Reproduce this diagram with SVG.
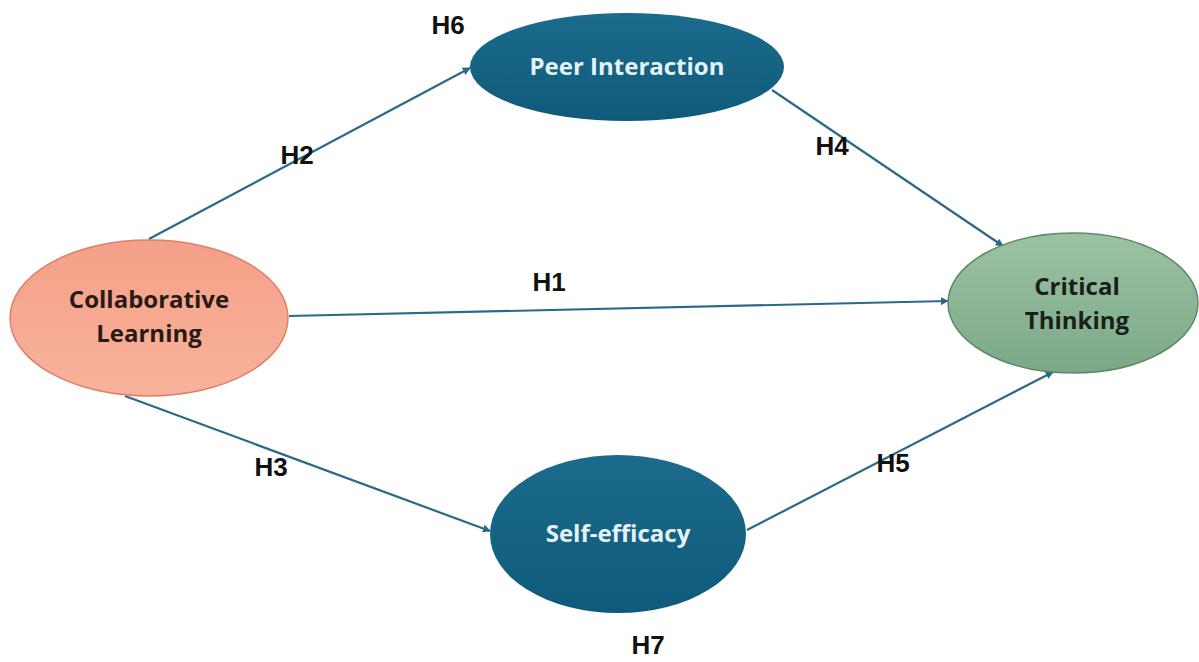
<svg xmlns="http://www.w3.org/2000/svg" width="1199" height="662" viewBox="0 0 1199 662">
<defs>
<marker id="arr" viewBox="0 0 10 10" refX="9" refY="5" markerWidth="8" markerHeight="8" markerUnits="userSpaceOnUse" orient="auto"><path d="M0,0 L10,5 L0,10 z" fill="#2a6a88"/></marker>
<linearGradient id="blue" x1="0" y1="0" x2="0" y2="1"><stop offset="0" stop-color="#1c6b8c"/><stop offset="1" stop-color="#0f5a7a"/></linearGradient>
<linearGradient id="green" x1="0" y1="0" x2="0" y2="1"><stop offset="0" stop-color="#9cc2a4"/><stop offset="1" stop-color="#7aa986"/></linearGradient>
<linearGradient id="salmon" x1="0" y1="0" x2="0" y2="1"><stop offset="0" stop-color="#f5a088"/><stop offset="1" stop-color="#f8b29c"/></linearGradient>
</defs>
<style>
.lbl{font-family:"Liberation Sans",Arial,sans-serif;font-weight:bold;font-size:26px;fill:#111;text-anchor:middle}
.nt{font-family:"Open Sans","Liberation Sans",sans-serif;font-weight:bold;font-size:24px;text-anchor:middle}
.conn{stroke:#2a6a88;stroke-width:2.2;fill:none;marker-end:url(#arr)}
</style>
<rect width="1199" height="662" fill="#ffffff"/>
<g id="connectors">
<line class="conn" x1="149" y1="239" x2="470" y2="68"/>
<line class="conn" x1="772" y1="90" x2="1003" y2="246"/>
<line class="conn" x1="289" y1="316" x2="948" y2="301"/>
<line class="conn" x1="125" y1="396" x2="490" y2="531"/>
<line class="conn" x1="747" y1="530" x2="1053" y2="372"/>
</g>
<g id="node-collaborative">
<ellipse cx="149" cy="318" rx="139" ry="78" fill="url(#salmon)" stroke="#e07f68" stroke-width="1.5"/>
<text class="nt" x="149" y="308" fill="#2a1a16">Collaborative</text>
<text class="nt" x="149" y="342" fill="#2a1a16">Learning</text>
</g>
<g id="node-peer">
<ellipse cx="627" cy="67" rx="157" ry="54" fill="url(#blue)"/>
<text class="nt" x="627" y="75" fill="#e6f3f6">Peer Interaction</text>
</g>
<g id="node-critical">
<ellipse cx="1073" cy="303" rx="125" ry="70" fill="url(#green)" stroke="#5e8a68" stroke-width="1.5"/>
<text class="nt" x="1077" y="295" fill="#1a1f1b">Critical</text>
<text class="nt" x="1077" y="329" fill="#1a1f1b">Thinking</text>
</g>
<g id="node-self">
<ellipse cx="618" cy="534" rx="128" ry="79" fill="url(#blue)"/>
<text class="nt" x="618" y="542" fill="#e6f3f6">Self-efficacy</text>
</g>
<g id="labels">
<text class="lbl" x="448" y="34">H6</text>
<text class="lbl" x="297" y="164">H2</text>
<text class="lbl" x="832" y="155">H4</text>
<text class="lbl" x="549" y="291">H1</text>
<text class="lbl" x="271" y="476">H3</text>
<text class="lbl" x="893" y="472">H5</text>
<text class="lbl" x="648" y="654">H7</text>
</g>
</svg>
